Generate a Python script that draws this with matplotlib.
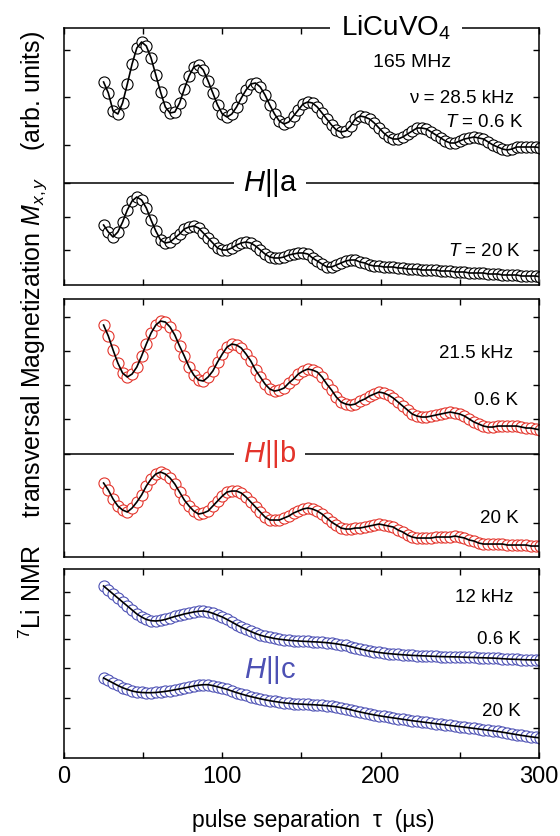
"""7Li NMR spin-echo decay in LiCuVO4 for H||a, H||b, H||c at 0.6 K and 20 K."""

import matplotlib.pyplot as plt

plt.rcParams['font.family'] = ['Liberation Sans', 'DejaVu Sans']
plt.rcParams['mathtext.fontset'] = 'custom'
plt.rcParams['mathtext.rm'] = 'Liberation Sans'
plt.rcParams['mathtext.it'] = 'Liberation Sans:italic'

# pulse separation tau (us)
TAU = [25, 28, 31, 34, 37, 40, 43, 46, 49, 52, 55, 58, 61, 64, 67, 70, 73, 76, 79, 82,
       85, 88, 91, 94, 97, 100, 103, 106, 109, 112, 115, 118, 121, 124, 127, 130, 133, 136,
       139, 142, 145, 148, 151, 154, 157, 160, 163, 166, 169, 172, 175, 178, 181, 184, 187,
       190, 193, 196, 199, 202, 205, 208, 211, 214, 217, 220, 223, 226, 229, 232, 235, 238,
       241, 244, 247, 250, 253, 256, 259, 262, 265, 268, 271, 274, 277, 280, 283, 286, 289,
       292, 295, 298, 301]

# M_xy (arb. units) -- H||a
A_06K = [203, 192, 174, 171, 182, 201, 221, 237, 243, 239, 227, 210, 193, 178, 172, 173, 182,
         196, 209, 218, 220, 215, 204, 192, 180, 171, 168, 171, 178, 187, 195, 201, 202, 198,
         190, 180, 171, 164, 161, 163, 169, 175, 181, 183, 182, 178, 172, 166, 160, 155, 153,
         154, 159, 166, 169, 168, 166, 162, 157, 152, 148, 146, 146, 148, 151, 154, 157, 157,
         156, 153, 150, 147, 144, 142, 142, 144, 146, 147, 148, 147, 146, 143, 140, 138, 136,
         135, 136, 138, 138, 138, 138, 138, 137]
A_20K = [60, 53, 48, 53, 63, 75, 84, 88, 85, 77, 65, 54, 45, 42, 43, 47, 51, 56, 58, 59, 57,
         52, 47, 42, 37, 35, 35, 37, 40, 42, 43, 42, 39, 35, 31, 28, 27, 27, 28, 30, 31, 32,
         32, 31, 27, 24, 21, 18, 18, 20, 22, 24, 25, 25, 23, 22, 20, 19, 19, 18, 18, 18, 17,
         17, 16, 16, 16, 15, 15, 15, 15, 14, 14, 14, 13, 13, 13, 12, 12, 12, 12, 11, 11, 11,
         10, 10, 10, 10, 9, 9, 9, 9, 8]

# H||b
B_06K = [232, 221, 207, 194, 184, 180, 183, 190, 201, 213, 224, 232, 236, 235, 230, 222, 211,
         201, 190, 182, 177, 176, 180, 186, 195, 203, 210, 213, 212, 209, 203, 196, 187, 180,
         173, 168, 166, 167, 169, 174, 178, 183, 186, 188, 187, 185, 180, 173, 167, 160, 155,
         153, 152, 153, 156, 158, 161, 163, 165, 164, 162, 159, 155, 151, 147, 143, 141, 140,
         140, 141, 142, 143, 144, 145, 144, 143, 141, 138, 135, 133, 131, 130, 130, 131, 131,
         131, 131, 131, 130, 129, 129, 128, 127]
B_20K = [74, 67, 58, 51, 47, 45, 49, 55, 62, 71, 78, 83, 85, 83, 79, 73, 65, 57, 51, 46, 43,
         44, 46, 51, 56, 61, 65, 66, 66, 64, 60, 55, 50, 45, 40, 37, 37, 37, 39, 41, 44, 46,
         48, 49, 48, 46, 43, 39, 35, 32, 29, 28, 28, 29, 29, 30, 31, 32, 33, 32, 31, 30, 27,
         25, 22, 20, 19, 19, 19, 19, 20, 20, 20, 20, 21, 20, 19, 17, 16, 14, 13, 13, 13, 13,
         13, 12, 12, 12, 12, 12, 11, 11, 11]

# H||c
C_06K = [172, 168, 164, 160, 156, 152, 148, 144, 141, 138.5, 137.3, 137, 137.5, 138.5, 140,
         141.5, 142.7, 144, 145, 146, 146.7, 147, 146.2, 144.7, 142.8, 141, 138.5, 136, 133.3,
         130.8, 128.6, 126.5, 124.5, 122.8, 121.5, 120.5, 119.5, 118.8, 118.2, 117.7, 117.3,
         117, 116.7, 116.5, 116.2, 116, 115.7, 115.3, 114.8, 114.2, 113.4, 112.5, 111.4, 110.2,
         109, 108, 107, 106.2, 105.5, 104.9, 104.4, 104, 103.6, 103.2, 102.9, 102.6, 102.4,
         102.2, 102, 101.8, 101.6, 101.4, 101.3, 101.2, 101.1, 101, 100.8, 100.6, 100.5, 100.3,
         100.2, 100, 99.9, 99.6, 99.3, 99, 98.8, 98.6, 98.4, 98.2, 98.1, 98, 97.9]
C_20K = [80, 77.5, 75, 72.5, 70.3, 68.5, 67, 66, 65.5, 65.3, 65.3, 65.5, 66, 66.6, 67.3, 68.2,
         69.1, 70, 71, 72, 72.8, 73.3, 73.3, 72.4, 71.2, 70, 68.6, 67, 65.4, 64, 62.6, 61.4,
         60.3, 59.2, 58.2, 57.3, 56.5, 55.8, 55.2, 54.7, 54.3, 54, 53.8, 53.5, 53.3, 53, 52.7,
         52.3, 51.8, 51.2, 50.4, 49.4, 48.3, 47.1, 46, 45, 44, 43.1, 42.3, 41.5, 40.8, 40.1,
         39.4, 38.7, 38, 37.3, 36.7, 36.1, 35.5, 34.9, 34.3, 33.7, 33.1, 32.5, 31.9, 31.4,
         30.8, 30.2, 29.6, 29, 28.4, 27.8, 27.2, 26.5, 25.8, 25, 24.2, 23.4, 22.6, 21.9, 21.2,
         20.6, 20]

X_TICKS = [0, 50, 100, 150, 200, 250, 300]
X_LABELS = ['0', '', '100', '', '200', '', '300']

RED = '#e3342b'
BLUE = '#4d51b4'


def style(ax, ymax, yticks, bottom=False):
    ax.set_xlim(0, 300)
    ax.set_ylim(0, ymax)
    ax.set_xticks(X_TICKS)
    ax.set_yticks(yticks)
    ax.tick_params(direction='in', top=True, right=True, length=4.5, width=1.0,
                   labelleft=False, labelbottom=bottom, labelsize=17, pad=6)
    if bottom:
        ax.set_xticklabels(X_LABELS)
    for s in ax.spines.values():
        s.set_linewidth(1.1)


def trace(ax, y, color):
    ax.plot(TAU, y, 'o', ms=8, mfc='white', mec=color, mew=0.8, zorder=2)
    ax.plot(TAU, y, '-', color='black', lw=1.2, zorder=3)


fig = plt.figure(figsize=(5.6, 8.36), dpi=100)
ax1 = fig.add_axes([0.1143, 0.6591, 0.848, 0.3074])
ax2 = fig.add_axes([0.1143, 0.3337, 0.848, 0.3086])
ax3 = fig.add_axes([0.1143, 0.0933, 0.848, 0.2261])

white = dict(facecolor='white', edgecolor='none', boxstyle='square,pad=0.3')

# H||a
trace(ax1, A_06K, 'black')
trace(ax1, A_20K, 'black')
style(ax1, 257, [235, 188, 140, 102, 68, 35])
ax1.axhline(102, color='black', lw=1.1, zorder=1)
ax1.text(130, 102, '$H$||a', fontsize=21, ha='center', va='center', bbox=white, zorder=5)
ax1.text(209.5, 257, 'LiCuVO$_4$', fontsize=20, ha='center', va='center',
         bbox=dict(facecolor='white', edgecolor='none', boxstyle='square,pad=0.4'), zorder=5)
ax1.text(219.6, 223, '165 MHz', fontsize=14, ha='center', va='center')
ax1.text(284, 187, 'ν = 28.5 kHz', fontsize=13.5, ha='right', va='center')
ax1.text(290, 163, '$T$ = 0.6 K', fontsize=13.5, ha='right', va='center')
ax1.text(288.6, 33, '$T$ = 20 K', fontsize=13.5, ha='right', va='center')

# H||b
trace(ax2, B_06K, RED)
trace(ax2, B_20K, RED)
style(ax2, 258, [240, 206, 172, 138, 103, 68, 34])
ax2.axhline(103, color='black', lw=1.1, zorder=1)
ax2.text(130, 103, '$H$||b', fontsize=21, color=RED, ha='center', va='center',
         bbox=white, zorder=5)
ax2.text(283.5, 204, '21.5 kHz', fontsize=13.5, ha='right', va='center')
ax2.text(287, 157, '0.6 K', fontsize=13.5, ha='right', va='center')
ax2.text(287, 39, '20 K', fontsize=13.5, ha='right', va='center')

# H||c
trace(ax3, C_06K, BLUE)
trace(ax3, C_20K, BLUE)
style(ax3, 189, [166, 143, 119, 90, 60, 30], bottom=True)
ax3.text(130, 88, '$H$||c', fontsize=21, color=BLUE, ha='center', va='center')
ax3.text(284, 160, '12 kHz', fontsize=13.5, ha='right', va='center')
ax3.text(288.6, 118, '0.6 K', fontsize=13.5, ha='right', va='center')
ax3.text(288.6, 46, '20 K', fontsize=13.5, ha='right', va='center')

fig.text(313 / 560, 1 - 820 / 836, 'pulse separation  τ  (µs)', fontsize=16.5,
         ha='center', va='center')
fig.text(33 / 560, 1 - 335 / 836,
         '$^7$Li NMR    transversal Magnetization $M_{x,y}$    (arb. units)',
         fontsize=18, rotation=90, ha='center', va='center')

fig.savefig('out.png', dpi=100)
